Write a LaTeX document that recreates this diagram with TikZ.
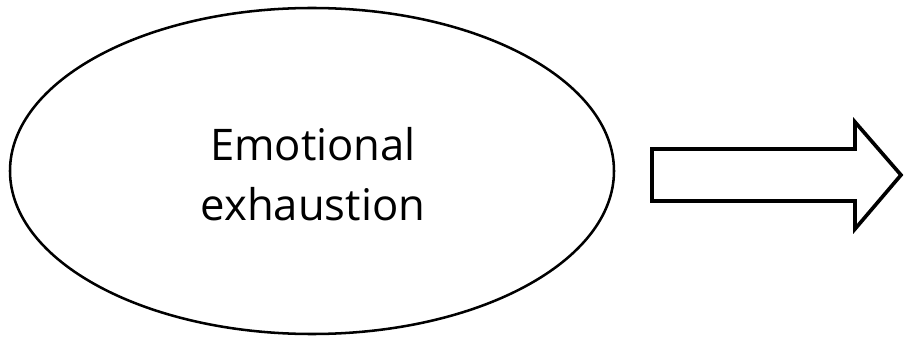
\documentclass[tikz,border=0pt]{standalone}
\usepackage{fontspec}
\setmainfont{Open Sans}
\usetikzlibrary{shapes.geometric}

\newlength{\px}
\setlength{\px}{0.025cm}
\tikzset{
  concept/.style = {
    draw,
    ellipse,
    line width    = 1.8pt,
    inner sep     = 0pt,
    minimum width = 604\px,
    minimum height= 326\px
  },
  conceptlabel/.style = {
    inner sep = 0pt,
    align     = center,
    font      = \fontsize{31}{42.7}\selectfont
  },
  blockarrow/.style = {draw, line width=2.6pt, line join=miter}
}

\begin{document}
\begin{tikzpicture}[x=\px, y=-\px]
  \useasboundingbox (0,0) rectangle (904,341);

  \node[concept] (exhaust) at (312,171) {};
  \node[conceptlabel] (exhaustlabel) at (313,174) {Emotional\\exhaustion};

  % block arrow on the right
  \coordinate (tail) at (652,175);
  \draw[blockarrow] (tail) ++(0,-26) -- ++(203,0) -- ++(0,-27)
    -- (901,175) -- (855,229) -- ++(0,-28) -- ++(-203,0) -- cycle;
\end{tikzpicture}
\end{document}
